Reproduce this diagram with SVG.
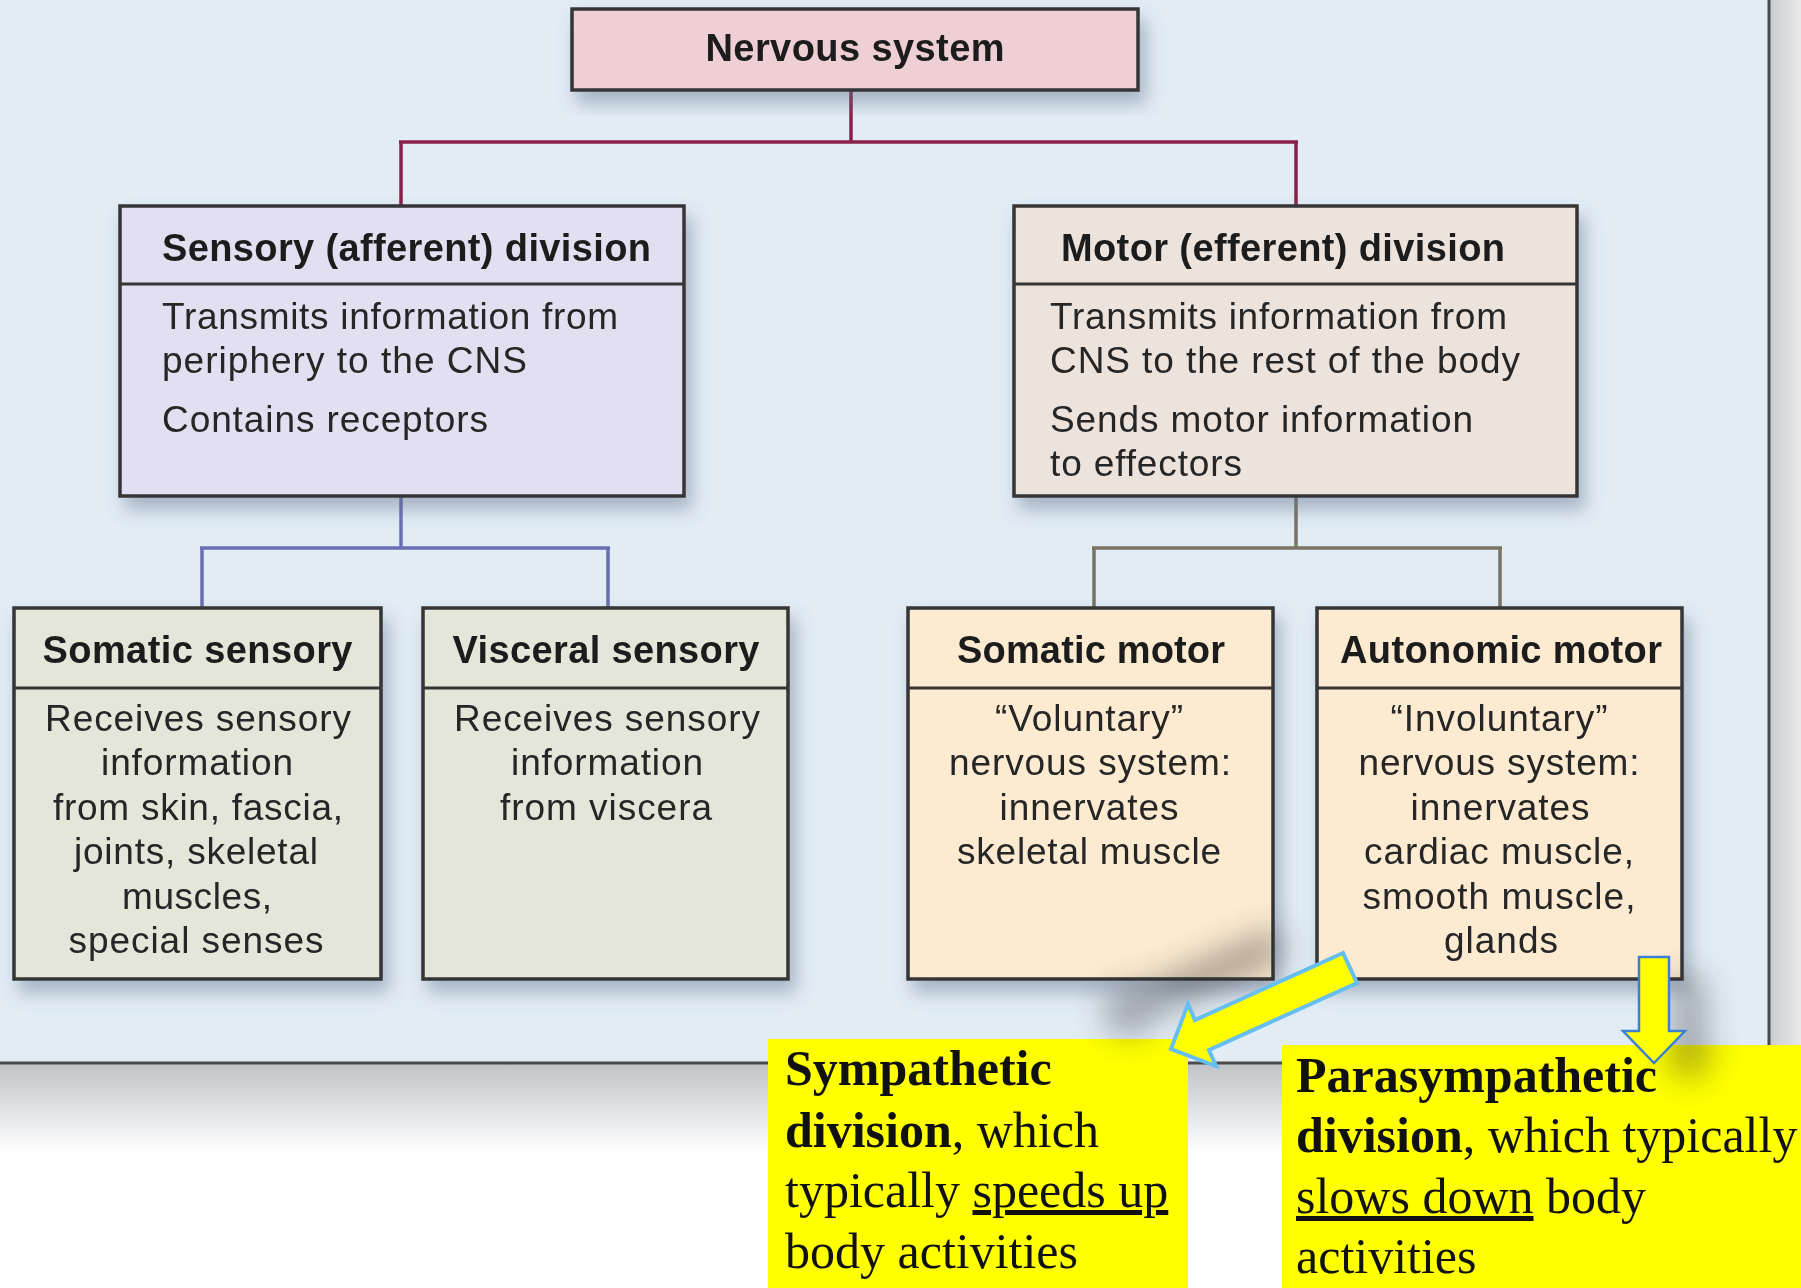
<svg xmlns="http://www.w3.org/2000/svg" width="1801" height="1288" viewBox="0 0 1801 1288">
<defs>
<style>
.box{stroke:#353535;stroke-width:3.5}
.div{stroke:#353535;stroke-width:3}
.hd{font-family:"Liberation Sans",Arial,Helvetica,sans-serif;font-weight:bold;font-size:38px;fill:#1c1c1c}
.bd{font-family:"Liberation Sans",Arial,Helvetica,sans-serif;font-size:37px;fill:#252525}
.yt{font-family:"Liberation Serif","Times New Roman",serif;font-size:50px;fill:#111}
.b{font-weight:bold}
.con{fill:none;stroke-width:3.5}
</style>
<filter id="sh" x="-20%" y="-20%" width="150%" height="150%">
<feDropShadow dx="6" dy="12" stdDeviation="9" flood-color="#5d6f88" flood-opacity="0.45"/>
</filter>
<filter id="blur" x="-50%" y="-50%" width="200%" height="200%">
<feGaussianBlur stdDeviation="16"/>
</filter>
<linearGradient id="below" x1="0" y1="0" x2="0" y2="1">
<stop offset="0" stop-color="#bfc3c7"/>
<stop offset="1" stop-color="#ffffff"/>
</linearGradient>
<linearGradient id="right" x1="0" y1="0" x2="1" y2="0">
<stop offset="0" stop-color="#c9cccf"/>
<stop offset="1" stop-color="#e9e9e9"/>
</linearGradient>
</defs>
<rect x="0" y="0" width="1801" height="1288" fill="#ffffff"/>
<rect x="0" y="1063" width="1801" height="90" fill="url(#below)"/>
<rect x="1769" y="0" width="32" height="1100" fill="url(#right)"/>
<rect x="0" y="0" width="1769" height="1063" fill="#e2ecf5"/>
<path d="M1769,0 V1063 H0" fill="none" stroke="#4a4a4a" stroke-width="3"/>

<g id="connectors">
<path class="con" stroke="#8a2049" d="M851,90 V142 M399,142 H1298 M401,142 V206 M1296,142 V206"/>
<path class="con" stroke="#6a6fb3" d="M401,496 V548 M200,548 H610 M202,548 V608 M608,548 V608"/>
<path class="con" stroke="#7a7262" d="M1296,496 V548 M1092,548 H1502 M1094,548 V608 M1500,548 V608"/>
</g>

<g id="nervous-system" filter="url(#sh)">
<rect class="box" x="572" y="9" width="566" height="81" fill="#eecfd4"/>
<text class="hd" x="855" y="61" text-anchor="middle" textLength="299" lengthAdjust="spacing">Nervous system</text>
</g>

<g id="sensory-division" filter="url(#sh)">
<rect class="box" x="120" y="206" width="564" height="290" fill="#e2dff0"/>
<line class="div" x1="120" y1="284" x2="684" y2="284"/>
<text class="hd" x="162" y="261" textLength="489" lengthAdjust="spacing">Sensory (afferent) division</text>
<text class="bd" x="162" y="329" textLength="456" lengthAdjust="spacing">Transmits information from</text>
<text class="bd" x="162" y="373" textLength="365" lengthAdjust="spacing">periphery to the CNS</text>
<text class="bd" x="162" y="432" textLength="326" lengthAdjust="spacing">Contains receptors</text>
</g>

<g id="motor-division" filter="url(#sh)">
<rect class="box" x="1014" y="206" width="563" height="290" fill="#ece3dd"/>
<line class="div" x1="1014" y1="284" x2="1577" y2="284"/>
<text class="hd" x="1061" y="261" textLength="444" lengthAdjust="spacing">Motor (efferent) division</text>
<text class="bd" x="1050" y="329" textLength="457" lengthAdjust="spacing">Transmits information from</text>
<text class="bd" x="1050" y="373" textLength="470" lengthAdjust="spacing">CNS to the rest of the body</text>
<text class="bd" x="1050" y="432" textLength="423" lengthAdjust="spacing">Sends motor information</text>
<text class="bd" x="1050" y="476" textLength="192" lengthAdjust="spacing">to effectors</text>
</g>

<g id="somatic-sensory" filter="url(#sh)">
<rect class="box" x="14" y="608" width="367" height="371" fill="#e5e6da"/>
<line class="div" x1="14" y1="688" x2="381" y2="688"/>
<text class="hd" x="197.5" y="663" text-anchor="middle" textLength="310" lengthAdjust="spacing">Somatic sensory</text>
<g class="bd" text-anchor="middle">
<text x="198" y="731" textLength="306" lengthAdjust="spacing">Receives sensory</text>
<text x="197" y="775" textLength="192" lengthAdjust="spacing">information</text>
<text x="198" y="820" textLength="290" lengthAdjust="spacing">from skin, fascia,</text>
<text x="196" y="864" textLength="244" lengthAdjust="spacing">joints, skeletal</text>
<text x="197" y="909" textLength="150" lengthAdjust="spacing">muscles,</text>
<text x="196" y="953" textLength="255" lengthAdjust="spacing">special senses</text>
</g>
</g>

<g id="visceral-sensory" filter="url(#sh)">
<rect class="box" x="423" y="608" width="365" height="371" fill="#e5e6da"/>
<line class="div" x1="423" y1="688" x2="788" y2="688"/>
<text class="hd" x="606" y="663" text-anchor="middle" textLength="307" lengthAdjust="spacing">Visceral sensory</text>
<g class="bd" text-anchor="middle">
<text x="607" y="731" textLength="306" lengthAdjust="spacing">Receives sensory</text>
<text x="607" y="775" textLength="192" lengthAdjust="spacing">information</text>
<text x="606" y="820" textLength="212" lengthAdjust="spacing">from viscera</text>
</g>
</g>

<g id="somatic-motor" filter="url(#sh)">
<rect class="box" x="908" y="608" width="365" height="371" fill="#fcebd1"/>
<line class="div" x1="908" y1="688" x2="1273" y2="688"/>
<text class="hd" x="1091" y="663" text-anchor="middle" textLength="268" lengthAdjust="spacing">Somatic motor</text>
<g class="bd" text-anchor="middle">
<text x="1089" y="731" textLength="188" lengthAdjust="spacing">“Voluntary”</text>
<text x="1090" y="775" textLength="282" lengthAdjust="spacing">nervous system:</text>
<text x="1089" y="820" textLength="179" lengthAdjust="spacing">innervates</text>
<text x="1089" y="864" textLength="264" lengthAdjust="spacing">skeletal muscle</text>
</g>
</g>

<g id="autonomic-motor" filter="url(#sh)">
<rect class="box" x="1317" y="608" width="365" height="371" fill="#fcebd1"/>
<line class="div" x1="1317" y1="688" x2="1682" y2="688"/>
<text class="hd" x="1501" y="663" text-anchor="middle" textLength="322" lengthAdjust="spacing">Autonomic motor</text>
<g class="bd" text-anchor="middle">
<text x="1499" y="731" textLength="217" lengthAdjust="spacing">“Involuntary”</text>
<text x="1499" y="775" textLength="281" lengthAdjust="spacing">nervous system:</text>
<text x="1500" y="820" textLength="179" lengthAdjust="spacing">innervates</text>
<text x="1499" y="864" textLength="270" lengthAdjust="spacing">cardiac muscle,</text>
<text x="1499" y="909" textLength="273" lengthAdjust="spacing">smooth muscle,</text>
<text x="1501" y="953" textLength="114" lengthAdjust="spacing">glands</text>
</g>
</g>

<g id="sympathetic-note">
<rect x="768" y="1039" width="420" height="249" fill="#ffff00"/>
<text class="yt" x="785" y="1085"><tspan class="b">Sympathetic</tspan></text>
<text class="yt" x="785" y="1147"><tspan class="b">division</tspan>, which</text>
<text class="yt" x="785" y="1207">typically <tspan text-decoration="underline">speeds up</tspan></text>
<text class="yt" x="785" y="1268">body activities</text>
</g>

<g id="parasympathetic-note">
<rect x="1282" y="1045" width="519" height="243" fill="#ffff00"/>
<text class="yt" x="1296" y="1092"><tspan class="b">Parasympathetic</tspan></text>
<text class="yt" x="1296" y="1152"><tspan class="b">division</tspan>, which typically</text>
<text class="yt" x="1296" y="1213"><tspan text-decoration="underline">slows down</tspan> body</text>
<text class="yt" x="1296" y="1273">activities</text>
</g>

<g id="arrow-shadows" filter="url(#blur)" fill="#2c2c2c" opacity="0.4">
<polygon points="1273,928 1125,995 1118,979 1101,1024 1146,1041 1138,1025 1287,957"/>
<polygon points="1674,977 1704,977 1704,1051 1720,1051 1689,1083 1658,1051 1674,1051"/>
</g>

<g id="arrows">
<polygon points="1343,953 1195,1020 1188,1004 1171,1049 1216,1066 1209,1050 1357,983" fill="#ffff00" stroke="#66bff2" stroke-width="4" stroke-linejoin="miter"/>
<polygon points="1639,957 1669,957 1669,1031 1685,1031 1654,1063 1623,1031 1639,1031" fill="#ffff00" stroke="#3d7fd6" stroke-width="2.5"/>
</g>
</svg>
